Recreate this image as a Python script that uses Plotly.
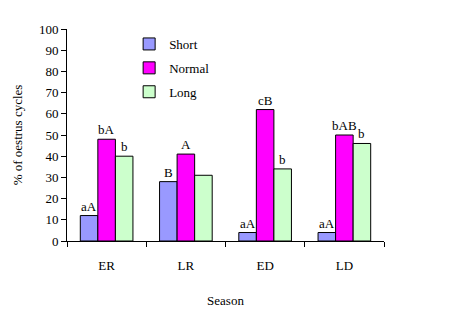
import plotly.graph_objects as go

seasons = ["ER", "LR", "ED", "LD"]
short_vals = [12, 28, 4, 4]
normal_vals = [48, 41, 62, 50]
long_vals = [40, 31, 34, 46]
short_labels = ["aA", "B", "aA", "aA"]
normal_labels = ["bA", "A", "cB", "bAB"]
long_labels = ["b", "", "b", "b"]

FONT = "Liberation Serif"
BAR_PX = 17.6  # width of one bar in pixels, used to centre letters over bars

series = [
    ("Short", short_vals, short_labels, "#9999FF"),
    ("Normal", normal_vals, normal_labels, "#FF00FF"),
    ("Long", long_vals, long_labels, "#CCFFCC"),
]

base_font = dict(family=FONT, size=13, color="black")

fig = go.Figure()
for name, vals, labels, color in series:
    fig.add_trace(go.Bar(
        x=seasons, y=vals, name=name, legendgroup=name,
        marker=dict(color=color, line=dict(color="black", width=1)),
    ))

# significance letters above each bar
for i, (name, vals, labels, color) in enumerate(series):
    for s, v, lab in zip(seasons, vals, labels):
        if not lab:
            continue
        fig.add_annotation(
            x=s, y=v, xref="x", yref="y", text=lab, showarrow=False,
            xanchor="center", yanchor="bottom", xshift=(i - 1) * BAR_PX,
            yshift=0, font=base_font,
        )

fig.update_layout(
    template="none",
    width=467, height=324,
    margin=dict(l=67, r=83, t=29, b=83),
    paper_bgcolor="white", plot_bgcolor="white",
    barmode="group", bargap=0.336, bargroupgap=0,
    font=base_font,
    showlegend=True,
    legend=dict(
        x=0.196, y=1.0, xanchor="left", yanchor="top",
        bgcolor="rgba(0,0,0,0)", tracegroupgap=4,
        itemwidth=30, font=base_font,
    ),
    xaxis=dict(
        showline=True, linecolor="black", linewidth=1,
        ticks="outside", tickson="boundaries", ticklen=5,
        tickcolor="black", showgrid=False, tickfont=base_font,
        ticklabelstandoff=12,
        title=dict(text="Season", standoff=24, font=base_font),
    ),
    yaxis=dict(
        range=[0, 100], dtick=10, showline=True, linecolor="black",
        linewidth=1, ticks="outside", ticklen=5, tickcolor="black",
        showgrid=False, zeroline=False, tickfont=base_font,
        title=dict(text="% of oestrus cycles", standoff=13, font=base_font),
    ),
)

fig.write_html("out.html")
